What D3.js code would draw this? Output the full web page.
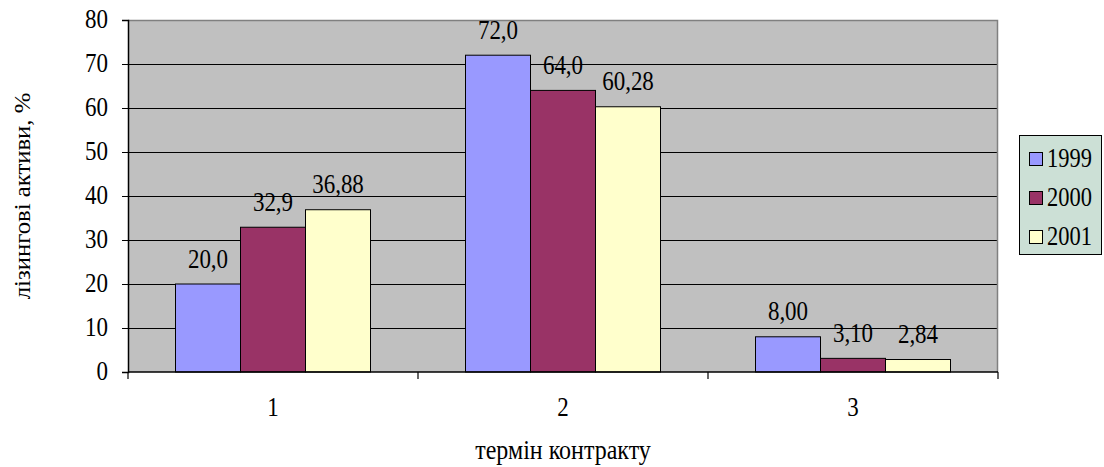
<!DOCTYPE html>
<html>
<head>
<meta charset="utf-8">
<script src="https://cdn.jsdelivr.net/npm/d3@7"></script>
<style>
  html, body { margin: 0; padding: 0; background: #fff; }
  svg { display: block; }
</style>
</head>
<body>
<svg id="chart" width="1104" height="467"></svg>
<script>
// Contract term categories and leasing asset shares (%) by year
const categories = ["1", "2", "3"];
const years = ["1999", "2000", "2001"];
const values1999 = [20.0, 72.0, 8.00];
const values2000 = [32.9, 64.0, 3.10];
const values2001 = [36.88, 60.28, 2.84];
const labels1999 = ["20,0", "72,0", "8,00"];
const labels2000 = ["32,9", "64,0", "3,10"];
const labels2001 = ["36,88", "60,28", "2,84"];
const yTicks = [0, 10, 20, 30, 40, 50, 60, 70, 80];
const colors = ["#9999FF", "#993366", "#FFFFCC"];

const seriesValues = [values1999, values2000, values2001];
const seriesLabels = [labels1999, labels2000, labels2001];

const FONT = "Liberation Serif";
const FS = 23;
const STRETCH = 1.18; // glyphs are drawn slightly taller than wide

const svg = d3.select("#chart");
const plot = { left: 128, right: 998, top: 20, bottom: 372 };

const x = d3.scaleBand().domain(categories).range([plot.left, plot.right]).padding(0);
const groupWidth = x.bandwidth() * 195 / 290;
const xInner = d3.scaleBand().domain(years).range([0, groupWidth]).padding(0);
const y = d3.scaleLinear().domain([0, 80]).range([plot.bottom, plot.top]);

// text helper: places text at (tx, ty) with the vertical stretch applied
function label(parent, tx, ty, str, anchor, size) {
  return parent.append("text")
    .attr("transform", `translate(${tx},${ty}) scale(1,${STRETCH})`)
    .attr("text-anchor", anchor || "start")
    .attr("font-family", FONT).attr("font-size", size || FS).attr("fill", "#000")
    .text(str);
}

// plot background
svg.append("rect")
  .attr("x", plot.left).attr("y", plot.top)
  .attr("width", plot.right - plot.left).attr("height", plot.bottom - plot.top)
  .attr("fill", "#C0C0C0");

// gridlines
svg.append("g").selectAll("line").data(yTicks.filter(d => d > 0 && d < 80)).join("line")
  .attr("x1", plot.left).attr("x2", plot.right)
  .attr("y1", d => Math.round(y(d)) + 0.5).attr("y2", d => Math.round(y(d)) + 0.5)
  .attr("stroke", "#000").attr("stroke-width", 1);

// top/right frame in gray
svg.append("path")
  .attr("d", `M${plot.left},${plot.top + 0.5}H${plot.right - 0.5}V${plot.bottom}`)
  .attr("fill", "none").attr("stroke", "#808080").attr("stroke-width", 1.5);

// bars with value labels
const groups = svg.append("g").selectAll("g").data(categories).join("g")
  .attr("transform", d => `translate(${x(d) + (x.bandwidth() - groupWidth) / 2},0)`);

groups.each(function(cat, ci) {
  const g = d3.select(this);
  years.forEach((yr, si) => {
    const v = seriesValues[si][ci];
    g.append("rect")
      .attr("x", xInner(yr)).attr("y", y(v))
      .attr("width", xInner.bandwidth()).attr("height", y(0) - y(v))
      .attr("fill", colors[si]).attr("stroke", "#000").attr("stroke-width", 1);
    label(g, xInner(yr) + xInner.bandwidth() / 2, y(v) - 16.5, seriesLabels[si][ci], "middle");
  });
});

// y axis
const yAxis = svg.append("g").attr("transform", `translate(${plot.left},0)`)
  .call(d3.axisLeft(y).tickValues(yTicks).tickSize(6).tickFormat(""));
yAxis.select(".domain").attr("stroke", "#000").attr("stroke-width", 1.5);
yAxis.selectAll(".tick line").attr("stroke", "#000");
yTicks.forEach(t => label(yAxis, -20, y(t) + 8, d3.format("d")(t), "end"));

// x axis: ticks sit at category boundaries, labels at category centres
const xAxisG = svg.append("g").attr("transform", `translate(0,${plot.bottom})`);
xAxisG.append("line")
  .attr("x1", plot.left).attr("x2", plot.right)
  .attr("y1", 0).attr("y2", 0).attr("stroke", "#000").attr("stroke-width", 1.5);
const boundaries = categories.map(c => x(c)).concat([x(categories[categories.length - 1]) + x.bandwidth()]);
xAxisG.selectAll("line.tick").data(boundaries).join("line").attr("class", "tick")
  .attr("x1", d => d).attr("x2", d => d).attr("y1", 0).attr("y2", 7)
  .attr("stroke", "#000").attr("stroke-width", 1.2);
categories.forEach(c => label(xAxisG, x(c) + x.bandwidth() / 2, 44, c, "middle"));

// axis titles
label(svg, (plot.left + plot.right) / 2, 459, "термін контракту", "middle", 24);
svg.append("text")
  .attr("transform", `translate(30,${(plot.top + plot.bottom) / 2}) rotate(-90) scale(1.03,1)`)
  .attr("text-anchor", "middle")
  .attr("font-family", FONT).attr("font-size", 24).attr("fill", "#000")
  .text("лізингові активи, %");

// legend
const legend = svg.append("g");
legend.append("rect")
  .attr("x", 1019.5).attr("y", 135.5).attr("width", 82).attr("height", 119)
  .attr("fill", "#CCE0D6").attr("stroke", "#000").attr("stroke-width", 1);
const itemY = [159, 198, 237];
years.forEach((yr, i) => {
  legend.append("rect")
    .attr("x", 1029.5).attr("y", itemY[i] - 6.5).attr("width", 13).attr("height", 13)
    .attr("fill", colors[i]).attr("stroke", "#000").attr("stroke-width", 1);
  label(legend, 1047, itemY[i] + 8, yr, "start", 22.5);
});
</script>
</body>
</html>
